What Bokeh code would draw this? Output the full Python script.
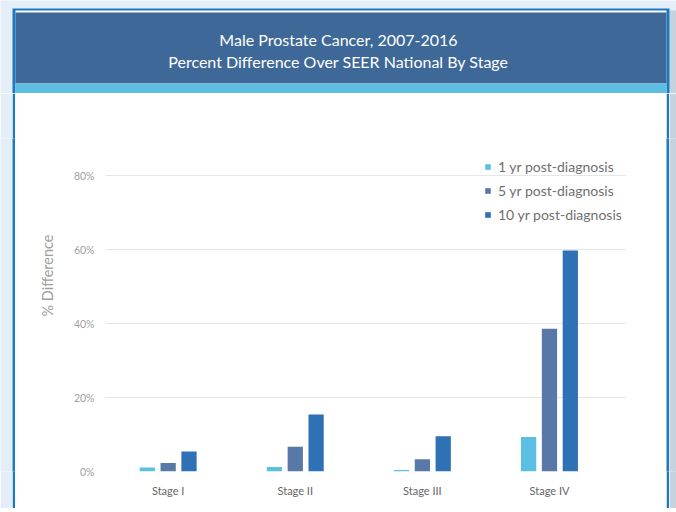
from bokeh.plotting import figure
from bokeh.models import (Range1d, ColumnDataSource, FixedTicker, PrintfTickFormatter)
from bokeh.transform import dodge
from bokeh.layouts import column, row
from bokeh.core.properties import value
from bokeh.embed import file_html
from bokeh.resources import INLINE
import math

# ---- data ----
stages = ["Stage I", "Stage II", "Stage III", "Stage IV"]
yr1 = [1.1, 1.2, 0.4, 9.3]
yr5 = [2.3, 6.7, 3.3, 38.6]
yr10 = [5.4, 15.4, 9.5, 59.7]
series_labels = ["1 yr post-diagnosis", "5 yr post-diagnosis", "10 yr post-diagnosis"]
y_ticks = [0, 20, 40, 60, 80]
title_lines = ["Male Prostate Cancer, 2007-2016",
               "Percent Difference Over SEER National By Stage"]
y_label = ["% Difference"]

# ---- style ----
PAGE_BG = "#e3eef9"
BORDER = "#1b7ac4"
HEADER = "#3e6898"
STRIPE = "#5dbde1"
SHADOW = "#c6d2de"
COLORS = ["#5bbfe3", "#5878a8", "#2e71b5"]
FONT = "Lato"

W = 676
HH = 93
CH = 415
TOP, BOTTOM = 45, 37


def bare(fig, color):
    fig.axis.visible = False
    fig.grid.visible = False
    fig.outline_line_color = None
    fig.background_fill_color = color
    fig.border_fill_color = color
    return fig


def strip(width, color):
    return bare(figure(width=width, height=CH, x_range=Range1d(0, 1), y_range=Range1d(0, 1),
                       min_border=0, toolbar_location=None, output_backend="svg"), color)


# ---- header (pixel-coordinate canvas) ----
h = bare(figure(width=W, height=HH, x_range=Range1d(0, W), y_range=Range1d(HH, 0),
                min_border=0, toolbar_location=None, output_backend="svg"), PAGE_BG)
h.quad(left=[669], right=[W], top=[10], bottom=[HH], fill_color=SHADOW, line_color=None)
h.quad(left=[12], right=[669], top=[8], bottom=[HH], fill_color=BORDER, line_color=None)
h.quad(left=[15], right=[666], top=[10], bottom=[HH], fill_color="white", line_color=None)
h.quad(left=[15], right=[666], top=[12], bottom=[83], fill_color=HEADER, line_color=None)
h.quad(left=[15], right=[666], top=[83], bottom=[HH], fill_color=STRIPE, line_color=None)
h.text(x=[338, 338], y=[38.5, 61], text=title_lines, text_align="center",
       text_baseline="middle", text_color="white", text_font=value(FONT),
       text_font_size="16px")

# ---- left strips ----
lbg = strip(12, PAGE_BG)
lblue = strip(3, BORDER)

ylab = figure(width=55, height=CH, x_range=Range1d(0, 55), y_range=Range1d(0, CH - TOP - BOTTOM),
              min_border_left=0, min_border_right=0, min_border_top=TOP,
              min_border_bottom=BOTTOM, toolbar_location=None, output_backend="svg")
bare(ylab, "white")
ylab.text(x=[32], y=[196], text=y_label, angle=math.pi / 2, text_align="center",
          text_baseline="middle", text_color="#a0a0a0", text_font=value(FONT),
          text_font_size="14.5px")

# ---- chart ----
xi = list(range(len(stages)))
p = figure(width=596, height=CH, x_range=Range1d(-0.493, 3.606), y_range=Range1d(0, 90),
           min_border_left=35, min_border_right=40, min_border_top=TOP,
           min_border_bottom=BOTTOM, toolbar_location=None, output_backend="svg")
p.background_fill_color = "white"
p.border_fill_color = "white"
p.outline_line_color = None

source = ColumnDataSource(dict(x=xi, stage=stages, yr1=yr1, yr5=yr5, yr10=yr10))
offsets = [-0.164, 0.0, 0.164]
for key, off, color, lab in zip(["yr1", "yr5", "yr10"], offsets, COLORS, series_labels):
    p.vbar(x=dodge("x", off), top=key, width=0.12, source=source,
           fill_color=color, line_color=None, legend_label=lab)

p.xgrid.visible = False
p.ygrid.ticker = FixedTicker(ticks=y_ticks)
p.ygrid.grid_line_color = "#e6e6e6"

p.yaxis.ticker = FixedTicker(ticks=y_ticks)
p.yaxis.formatter = PrintfTickFormatter(format="%d%%")
p.xaxis.ticker = FixedTicker(ticks=xi)
p.xaxis.major_label_overrides = {i: s for i, s in zip(xi, stages)}
for ax in (p.xaxis, p.yaxis):
    ax.axis_line_color = None
    ax.major_tick_line_color = None
    ax.minor_tick_line_color = None
    ax.major_label_text_font = FONT
p.yaxis.major_label_text_font_size = "10.5px"
p.yaxis.major_label_text_color = "#a0a0a0"
p.yaxis.major_label_standoff = 5
p.xaxis.major_label_text_font_size = "11px"
p.xaxis.major_label_text_color = "#666666"
p.xaxis.major_label_standoff = 6

lg = p.legend[0]
lg.location = (379, 247)
lg.label_text_font = FONT
lg.label_text_font_size = "14px"
lg.label_text_color = "#707070"
lg.glyph_width = 7
lg.glyph_height = 7
lg.label_standoff = 7
lg.label_height = 20
lg.spacing = 4
lg.padding = 0
lg.margin = 0
lg.border_line_color = None
lg.background_fill_alpha = 0

# ---- right strips ----
rblue = strip(3, BORDER)
rshadow = strip(7, SHADOW)

layout = column(h, row(lbg, lblue, ylab, p, rblue, rshadow))

html = file_html(layout, INLINE, title="Male Prostate Cancer")
html = html.replace("<body>", '<body style="background-color:%s; margin:0;">' % PAGE_BG, 1)
open("out.html", "w").write(html)
